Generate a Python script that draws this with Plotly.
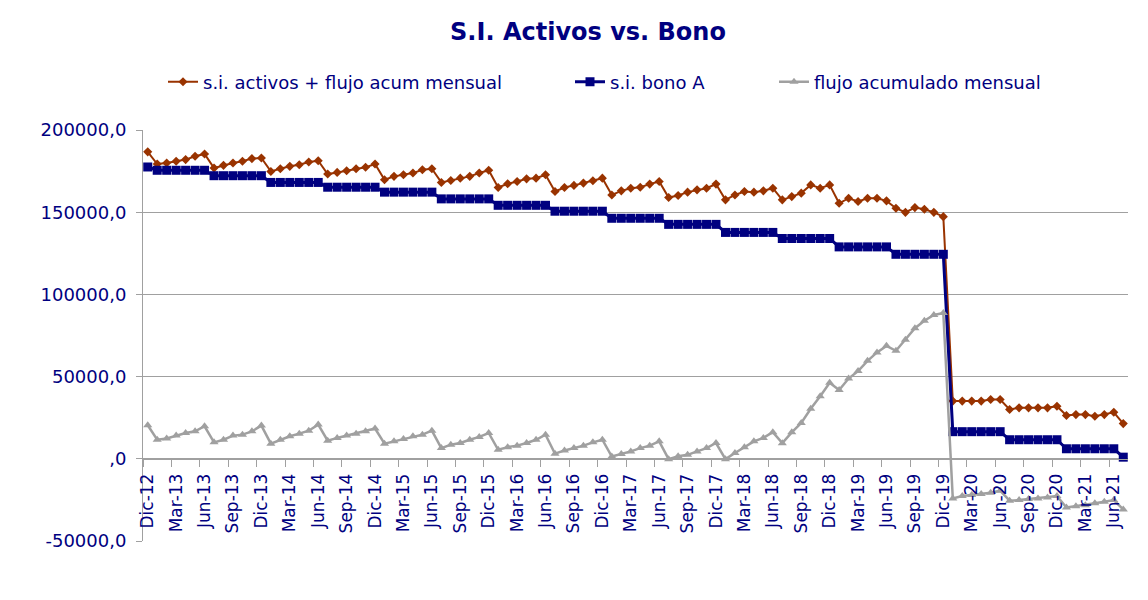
import plotly.graph_objects as go

categories = [
    "Dic-12",
    "Ene-13", "Feb-13", "Mar-13", "Abr-13", "May-13", "Jun-13", "Jul-13", "Ago-13", "Sep-13", "Oct-13", "Nov-13", "Dic-13",
    "Ene-14", "Feb-14", "Mar-14", "Abr-14", "May-14", "Jun-14", "Jul-14", "Ago-14", "Sep-14", "Oct-14", "Nov-14", "Dic-14",
    "Ene-15", "Feb-15", "Mar-15", "Abr-15", "May-15", "Jun-15", "Jul-15", "Ago-15", "Sep-15", "Oct-15", "Nov-15", "Dic-15",
    "Ene-16", "Feb-16", "Mar-16", "Abr-16", "May-16", "Jun-16", "Jul-16", "Ago-16", "Sep-16", "Oct-16", "Nov-16", "Dic-16",
    "Ene-17", "Feb-17", "Mar-17", "Abr-17", "May-17", "Jun-17", "Jul-17", "Ago-17", "Sep-17", "Oct-17", "Nov-17", "Dic-17",
    "Ene-18", "Feb-18", "Mar-18", "Abr-18", "May-18", "Jun-18", "Jul-18", "Ago-18", "Sep-18", "Oct-18", "Nov-18", "Dic-18",
    "Ene-19", "Feb-19", "Mar-19", "Abr-19", "May-19", "Jun-19", "Jul-19", "Ago-19", "Sep-19", "Oct-19", "Nov-19", "Dic-19",
    "Ene-20", "Feb-20", "Mar-20", "Abr-20", "May-20", "Jun-20", "Jul-20", "Ago-20", "Sep-20", "Oct-20", "Nov-20", "Dic-20",
    "Ene-21", "Feb-21", "Mar-21", "Abr-21", "May-21", "Jun-21", "Jul-21",
]

activos_flujo = [
    186700,
    179300, 179900, 181000, 182000, 184000, 185400, 176900, 178500, 179900, 181000, 182600, 183000,
    174800, 176400, 177900, 178900, 180500, 181300, 173200, 174200, 175200, 176400, 177300, 179300,
    169700, 171800, 172800, 173800, 175800, 176400, 168100, 169300, 170700, 171800, 173800, 175500,
    165000, 167300, 168700, 170300, 170700, 172800, 162600, 165000, 166300, 167700, 169100, 170700,
    160500, 163000, 164600, 165200, 167100, 168700, 158900, 160200, 162200, 163600, 164600, 167100,
    157500, 160500, 162600, 162200, 163000, 164600, 157500, 159500, 161600, 166600, 164600, 166600,
    155400, 158500, 156500, 158500, 158500, 156900, 152400, 149900, 152800, 151800, 149900, 147300,
    35100, 35100, 35100, 35100, 36100, 36100, 30000, 31000, 31000, 31000, 31000, 32000,
    26300, 26900, 26900, 25900, 26900, 28300, 21400,
]

bono_a = [
    177500,
    175500, 175500, 175500, 175500, 175500, 175500, 172200, 172200, 172200, 172200, 172200, 172200,
    168100, 168100, 168100, 168100, 168100, 168100, 165200, 165200, 165200, 165200, 165200, 165200,
    162200, 162200, 162200, 162200, 162200, 162200, 158100, 158100, 158100, 158100, 158100, 158100,
    154200, 154200, 154200, 154200, 154200, 154200, 150600, 150600, 150600, 150600, 150600, 150600,
    146300, 146300, 146300, 146300, 146300, 146300, 142600, 142600, 142600, 142600, 142600, 142600,
    137700, 137700, 137700, 137700, 137700, 137700, 134000, 134000, 134000, 134000, 134000, 134000,
    128900, 128900, 128900, 128900, 128900, 128900, 124400, 124400, 124400, 124400, 124400, 124400,
    16500, 16500, 16500, 16500, 16500, 16500, 11600, 11600, 11600, 11600, 11600, 11600,
    6100, 6100, 6100, 6100, 6100, 6100, 1000,
]

flujo_acum = [
    20400,
    11600, 12400, 14100, 15700, 16700, 19800, 10000, 11600, 14100, 14700, 16700, 20200,
    9200, 11600, 13700, 15300, 17100, 20800, 11000, 12700, 14100, 15300, 16700, 18400,
    9200, 10600, 12000, 13700, 14700, 17100, 6500, 8600, 9600, 11600, 13300, 15700,
    5500, 7100, 8000, 9600, 11600, 14700, 3100, 5100, 6500, 8000, 10000, 11600,
    1400, 2900, 4500, 6500, 8000, 10600, -200, 1600, 2400, 4500, 6500, 9600,
    -200, 3500, 7100, 10600, 12700, 16200, 9500, 16100, 21800, 30400, 38100, 46300,
    41800, 48800, 53400, 59600, 64700, 68700, 65700, 72400, 79400, 84000, 87500, 88700,
    -24100, -22600, -22000, -21400, -20600, -19400, -25500, -25100, -24500, -24100, -23500, -22600,
    -29600, -28800, -28200, -27100, -26100, -25100, -30800,
]

series_names = ["s.i. activos + flujo acum mensual", "s.i. bono A", "flujo acumulado mensual"]

y_tickvals = [-50000, 0, 50000, 100000, 150000, 200000]
y_ticktext = ["-50000,0", ",0", "50000,0", "100000,0", "150000,0", "200000,0"]

TEXT = "#000080"
FONT = "DejaVu Sans"
GRID = "#A0A0A0"

fig = go.Figure()
fig.add_trace(go.Scatter(
    x=categories, y=activos_flujo, name=series_names[0], mode="lines+markers",
    line=dict(color="#993300", width=2),
    marker=dict(symbol="diamond", size=7, color="#993300"),
    legend="legend", showlegend=True,
))
fig.add_trace(go.Scatter(
    x=categories, y=bono_a, name=series_names[1], mode="lines+markers",
    line=dict(color="#000080", width=3),
    marker=dict(symbol="square", size=9, color="#000080"),
    legend="legend2", showlegend=True,
))
fig.add_trace(go.Scatter(
    x=categories, y=flujo_acum, name=series_names[2], mode="lines+markers",
    line=dict(color="#A0A0A0", width=2.5),
    marker=dict(symbol="triangle-up", size=8, color="#A0A0A0"),
    legend="legend3", showlegend=True,
))

legend_common = dict(
    orientation="h", xref="container", yref="container", yanchor="middle", xanchor="left",
    y=1 - 82 / 600, font=dict(family=FONT, size=18, color=TEXT), bgcolor="rgba(0,0,0,0)",
)

fig.update_layout(
    width=1148, height=600,
    margin=dict(l=143, r=20, t=130, b=59, autoexpand=False),
    paper_bgcolor="white", plot_bgcolor="white",
    showlegend=True,
    font=dict(family=FONT, color=TEXT),
    title=dict(
        text="<b>S.I. Activos vs. Bono</b>", xref="container", yref="container",
        x=588 / 1148, xanchor="center", y=1 - 32 / 600, yanchor="middle",
        font=dict(family=FONT, size=24, color=TEXT),
    ),
    legend=dict(x=163 / 1148, **legend_common),
    legend2=dict(x=570 / 1148, **legend_common),
    legend3=dict(x=774 / 1148, **legend_common),
    xaxis=dict(
        type="category", anchor="free", position=0.2, range=[-0.5, len(categories) - 0.5],
        autorange=False, automargin=False,
        tickmode="linear", tick0=0, dtick=3, tickson="boundaries",
        tickangle=-90, ticks="outside", ticklen=7, tickcolor=GRID,
        showline=True, linecolor=GRID, linewidth=1, showgrid=False,
        tickfont=dict(family=FONT, size=17, color=TEXT),
        ticklabelstandoff=7,
    ),
    yaxis=dict(
        range=[-50000, 200000], autorange=False, automargin=False,
        tickmode="array", tickvals=y_tickvals, ticktext=y_ticktext,
        showgrid=True, gridcolor=GRID, gridwidth=1, zeroline=False,
        showline=True, linecolor=GRID, linewidth=1, ticks="outside", ticklen=6, tickcolor=GRID,
        tickfont=dict(family=FONT, size=18, color=TEXT), ticklabelstandoff=6,
    ),
)

fig.write_html(
    "out.html",
    config={"displayModeBar": False},
    post_script="document.body.style.margin='0';",
)
